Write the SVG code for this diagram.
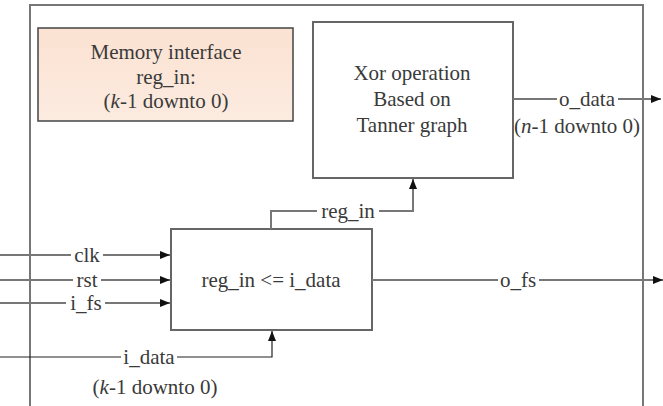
<svg xmlns="http://www.w3.org/2000/svg" width="663" height="406" viewBox="0 0 663 406">
<defs>
<marker id="arr" markerWidth="11" markerHeight="9" refX="10" refY="4" orient="auto" markerUnits="userSpaceOnUse">
<path d="M0,0 L10,4 L0,8 z" fill="#111"/>
</marker>
<linearGradient id="peach" x1="0" y1="0" x2="0" y2="1">
<stop offset="0" stop-color="#fbe2d2"/>
<stop offset="1" stop-color="#fcebe0"/>
</linearGradient>
</defs>
<style>
text{font-family:"Liberation Serif","Times New Roman",serif;font-size:21px;fill:#3a3a3a;text-anchor:middle}
.box{fill:#fff;stroke:#666;stroke-width:2}
.wire{fill:none;stroke:#777;stroke-width:2}
.thin{fill:none;stroke:#222;stroke-width:1.2}
.bg{fill:#fff}
</style>
<path d="M30,406 V5 H643 V406" fill="none" stroke="#777" stroke-width="2"/>
<g id="memory">
<rect x="38" y="28" width="255" height="93" fill="url(#peach)" stroke="#444" stroke-width="1.5"/>
<text x="166" y="59">Memory interface</text>
<text x="166" y="84">reg_in:</text>
<text x="166" y="108">(<tspan font-style="italic">k</tspan>-1 downto 0)</text>
</g>
<g id="xor">
<rect class="box" x="313" y="22" width="200" height="156"/>
<text x="412" y="80">Xor operation</text>
<text x="412" y="106">Based on</text>
<text x="412" y="132">Tanner graph</text>
</g>
<g id="reg">
<rect class="box" x="171" y="229" width="201" height="101"/>
<text x="271" y="287">reg_in &lt;= i_data</text>
</g>
<g id="connectors">
<path class="wire" d="M0,255 H170" marker-end="url(#arr)"/>
<path class="wire" d="M0,280 H170" marker-end="url(#arr)"/>
<path class="wire" d="M0,303 H170" marker-end="url(#arr)"/>
<path class="thin" d="M0,357 H272 V331" marker-end="url(#arr)"/>
<path class="wire" d="M271,229 V211 H413 V179" marker-end="url(#arr)"/>
<path class="wire" d="M513,99 H661" marker-end="url(#arr)"/>
<path class="wire" d="M372,280 H663" marker-end="url(#arr)"/>
<rect class="bg" x="71" y="245" width="32" height="20"/>
<text x="87" y="262">clk</text>
<rect class="bg" x="73" y="270" width="28" height="20"/>
<text x="87" y="287">rst</text>
<rect class="bg" x="66" y="293" width="39" height="20"/>
<text x="86" y="310">i_fs</text>
<rect class="bg" x="121" y="347" width="56" height="20"/>
<text x="149" y="364">i_data</text>
<text x="155" y="394">(<tspan font-style="italic">k</tspan>-1 downto 0)</text>
<rect class="bg" x="317" y="201" width="62" height="20"/>
<text x="348" y="218">reg_in</text>
<rect class="bg" x="557" y="89" width="61" height="20"/>
<text x="587" y="106">o_data</text>
<text x="577" y="133">(<tspan font-style="italic">n</tspan>-1 downto 0)</text>
<rect class="bg" x="498" y="270" width="41" height="20"/>
<text x="518" y="287">o_fs</text>
</g>
</svg>
